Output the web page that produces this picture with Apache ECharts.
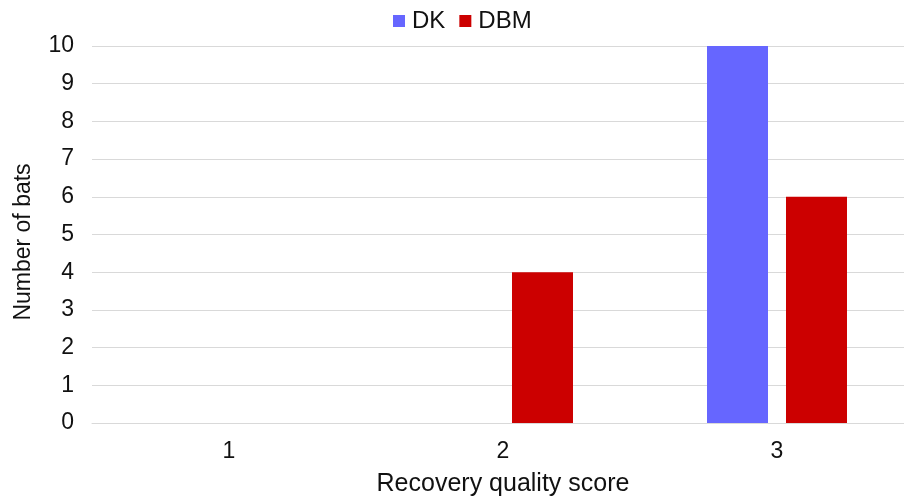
<!DOCTYPE html>
<html>
<head>
<meta charset="utf-8">
<script src="https://cdn.jsdelivr.net/npm/echarts@6/dist/echarts.min.js"></script>
<style>
  html, body { margin: 0; padding: 0; background: #fff; overflow: hidden; }
  /* the plot area runs a little past the right edge of the window */
  #chart { width: 914px; height: 502px; }
</style>
</head>
<body>
<div id="chart"></div>
<script>
// Recovery quality score distribution per method
const categories = ['1', '2', '3'];
const dkCounts = [0, 0, 10];
const dbmCounts = [0, 4, 6];
const yTicks = [0, 1, 2, 3, 4, 5, 6, 7, 8, 9, 10];

const FONT = '"Liberation Sans", Arial, sans-serif';
const TEXT = '#111';
const GRID = '#d9d9d9';

const chart = echarts.init(document.getElementById('chart'), null, { renderer: 'canvas' });

chart.setOption({
  animation: false,
  backgroundColor: '#fff',
  textStyle: { fontFamily: FONT, color: TEXT },
  legend: {
    top: 4,
    left: 388,
    itemWidth: 12,
    itemHeight: 12,
    itemGap: 14,
    icon: 'rect',
    textStyle: { fontFamily: FONT, fontSize: 24, color: TEXT, padding: [0, 0, 0, 2] },
    data: ['DK', 'DBM']
  },
  grid: { left: 92, right: 0, top: 46, height: 382, containLabel: false },
  xAxis: {
    type: 'category',
    data: categories,
    name: 'Recovery quality score',
    nameLocation: 'middle',
    nameGap: 49,
    nameTextStyle: { fontFamily: FONT, fontSize: 25, color: TEXT },
    axisLine: { show: true, lineStyle: { color: GRID, width: 1 } },
    axisTick: { show: false },
    axisLabel: { fontFamily: FONT, fontSize: 23, color: TEXT, margin: 17 }
  },
  yAxis: {
    type: 'value',
    min: yTicks[0],
    max: yTicks[yTicks.length - 1],
    interval: 1,
    name: 'Number of bats',
    nameLocation: 'middle',
    nameGap: 57,
    nameTextStyle: { fontFamily: FONT, fontSize: 23, color: TEXT, padding: [0, 15, 0, 0] },
    axisLine: { show: false },
    axisTick: { show: false },
    axisLabel: { fontFamily: FONT, fontSize: 23, color: TEXT, margin: 18 },
    splitLine: { show: true, lineStyle: { color: GRID, width: 1 } }
  },
  series: [
    {
      name: 'DK',
      type: 'bar',
      data: dkCounts,
      barWidth: 61,
      barGap: '29.5%',
      itemStyle: { color: '#6666ff' }
    },
    {
      name: 'DBM',
      type: 'bar',
      data: dbmCounts,
      barWidth: 61,
      barGap: '29.5%',
      itemStyle: { color: '#cc0000' }
    }
  ]
});
</script>
</body>
</html>
